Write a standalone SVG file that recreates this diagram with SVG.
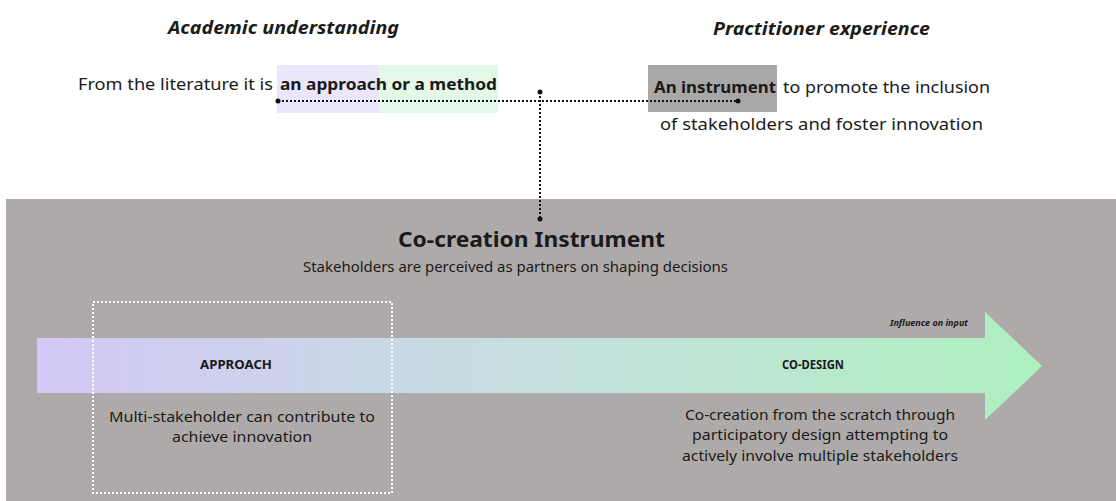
<svg xmlns="http://www.w3.org/2000/svg" width="1116" height="501" viewBox="0 0 1116 501">
<style>
text{font-family:"Noto Sans","Open Sans",sans-serif;fill:#1a1a1a}
.head{font-size:18px;font-weight:bold;font-style:italic}
.body{font-size:16px}
.b{font-weight:bold}
.lbl{font-size:12px;font-weight:bold}
.desc{font-size:15px}
.dot{fill:none;stroke:#111;stroke-width:2;stroke-dasharray:2 2}
</style>
<defs>
<linearGradient id="g" x1="0" y1="0" x2="1" y2="0">
<stop offset="0" stop-color="#d3c8f6"/>
<stop offset="0.5" stop-color="#c4dfde"/>
<stop offset="1" stop-color="#aef0bf"/>
</linearGradient>
<marker id="m" viewBox="0 0 6 6" refX="3" refY="3" markerWidth="6" markerHeight="6" markerUnits="userSpaceOnUse"><circle cx="3" cy="3" r="2.5" fill="#111"/></marker>
</defs>
<rect x="0" y="0" width="1116" height="501" fill="#ffffff"/>
<g id="top">
<text class="head" x="168" y="34" textLength="231" lengthAdjust="spacingAndGlyphs">Academic understanding</text>
<text class="head" x="713" y="35" textLength="217" lengthAdjust="spacingAndGlyphs">Practitioner experience</text>
</g>
<g id="academic">
<rect x="277" y="65" width="102" height="48" fill="#ebe6fb"/>
<rect x="379" y="65" width="119" height="48" fill="#e3f8e6"/>
<text class="body" x="78" y="90" textLength="195" lengthAdjust="spacingAndGlyphs">From the literature it is</text>
<text class="body b" x="280" y="90" textLength="217" lengthAdjust="spacingAndGlyphs">an approach or a method</text>
</g>
<g id="practitioner">
<rect x="648" y="65" width="129" height="47" fill="#aaa7a7"/>
<text class="body b" x="654" y="93" textLength="122" lengthAdjust="spacingAndGlyphs">An instrument</text>
<text class="body" x="783" y="93" textLength="207" lengthAdjust="spacingAndGlyphs">to promote the inclusion</text>
<text class="body" x="660" y="130" textLength="323" lengthAdjust="spacingAndGlyphs">of  stakeholders and  foster innovation</text>
</g>
<rect id="panel" x="6" y="199" width="1110" height="302" fill="#aeaaa9"/>
<g id="connectors">
<line class="dot" x1="278" y1="101" x2="738" y2="101" marker-start="url(#m)" marker-end="url(#m)"/>
<line class="dot" x1="540" y1="92" x2="540" y2="219" marker-start="url(#m)" marker-end="url(#m)"/>
</g>
<g id="instrument">
<text x="398" y="247" font-size="22" font-weight="bold" textLength="267" lengthAdjust="spacingAndGlyphs">Co-creation Instrument</text>
<text x="303" y="272" font-size="14" textLength="425" lengthAdjust="spacingAndGlyphs">Stakeholders are perceived as partners on shaping decisions</text>
</g>
<g id="arrow">
<polygon points="37,338 985,338 985,312 1042,366 985,420 985,393 37,393" fill="url(#g)"/>
<text x="890" y="326" font-size="9" font-weight="bold" font-style="italic" textLength="78" lengthAdjust="spacingAndGlyphs">Influence on input</text>
</g>
<g id="approach">
<rect x="93" y="302" width="299" height="191" fill="none" stroke="#ffffff" stroke-width="2" stroke-dasharray="2 2"/>
<text class="lbl" x="200" y="369" textLength="72" lengthAdjust="spacingAndGlyphs">APPROACH</text>
<text class="desc" x="109" y="422" textLength="266" lengthAdjust="spacingAndGlyphs">Multi-stakeholder can contribute to</text>
<text class="desc" x="172" y="442" textLength="140" lengthAdjust="spacingAndGlyphs">achieve innovation</text>
</g>
<g id="codesign">
<text class="lbl" x="782" y="369" textLength="62" lengthAdjust="spacingAndGlyphs">CO-DESIGN</text>
<text class="desc" x="820" y="420" text-anchor="middle" textLength="270" lengthAdjust="spacingAndGlyphs">Co-creation from the scratch through</text>
<text class="desc" x="820" y="440" text-anchor="middle" textLength="256" lengthAdjust="spacingAndGlyphs">participatory design attempting to</text>
<text class="desc" x="820" y="461" text-anchor="middle" textLength="276" lengthAdjust="spacingAndGlyphs">actively involve multiple stakeholders</text>
</g>
</svg>
